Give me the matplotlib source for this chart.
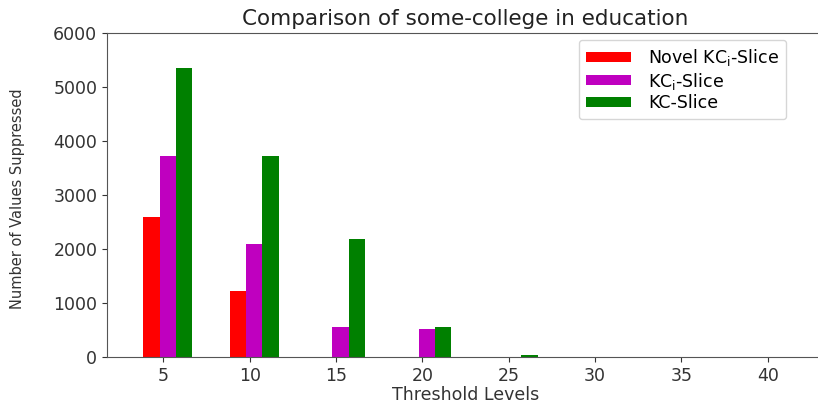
import numpy as np
import matplotlib
matplotlib.use('Agg')
import matplotlib.pyplot as plt

# Datos
umbrales = [5, 10, 15, 20, 25, 30, 35, 40]
novel_kci = [2600, 1220, 0, 0, 0, 0, 0, 0]
kci_slice = [3720, 2100, 565, 530, 0, 0, 0, 0]
kc_slice = [5350, 3720, 2190, 555, 45, 0, 0, 0]

etiquetas = [r'Novel KC$_{\mathrm{i}}$-Slice', r'KC$_{\mathrm{i}}$-Slice', 'KC-Slice']
colores = ['red', 'm', 'g']

x = np.array(umbrales)
ancho = 0.944

fig = plt.figure(figsize=(8.18, 4.05), dpi=100)
ax = fig.add_axes([107 / 818, 47.7 / 405, 717 / 818, 324.3 / 405])

ax.bar(x - 0.675, novel_kci, width=ancho, color=colores[0], label=etiquetas[0])
ax.bar(x + 0.27, kci_slice, width=ancho, color=colores[1], label=etiquetas[1])
ax.bar(x + 1.21, kc_slice, width=ancho, color=colores[2], label=etiquetas[2])

ax.set_xlim(1.74, 43.26)
ax.set_ylim(0, 6000)
ax.set_xticks(umbrales)
ax.set_yticks(range(0, 7000, 1000))
ax.tick_params(labelsize=12.5, colors='#333333')
for s in ax.spines.values():
    s.set_color('#555555')
ax.spines['right'].set_visible(False)

ax.set_title('Comparison of some-college in education', fontsize=15.5, color='#222222', pad=6)
ax.set_xlabel('Threshold Levels', fontsize=12.5, color='#333333', labelpad=1)
ax.set_ylabel('Number of Values Suppressed', fontsize=10.5, color='#333333')
ax.yaxis.set_label_coords((25 - 107) / 717, 0.49)

ax.legend(loc='upper left', bbox_to_anchor=(579 / 818, 365 / 405),
          bbox_transform=fig.transFigure, borderaxespad=0, fontsize=12.5,
          handlelength=2.6, handleheight=0.5, handletextpad=1.0, labelspacing=0.15)

plt.savefig('out.png', dpi=100)
